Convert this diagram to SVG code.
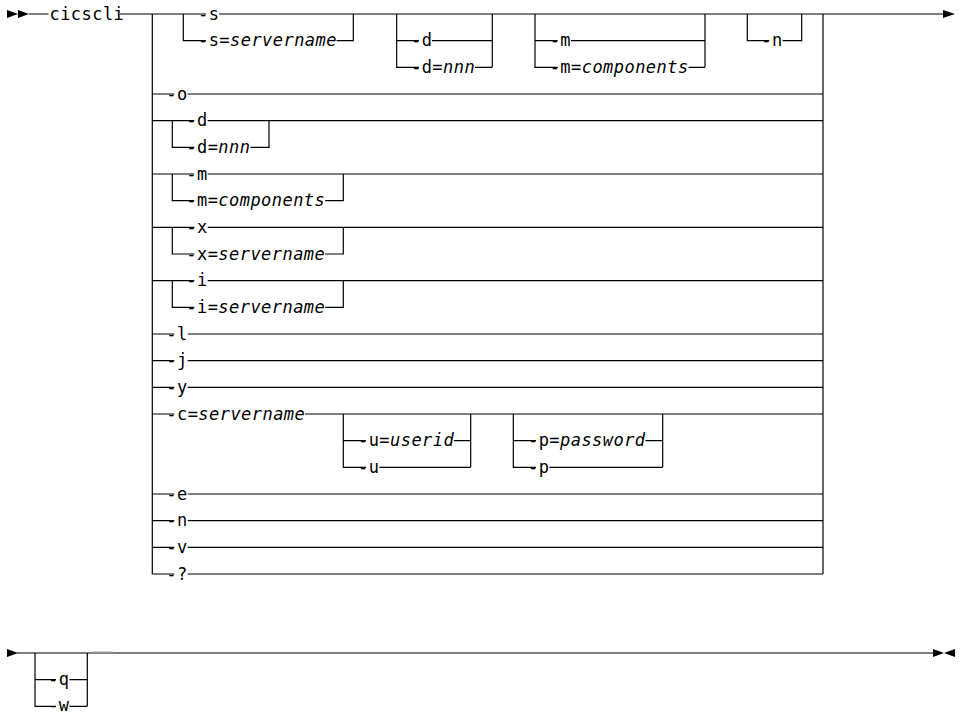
<svg xmlns="http://www.w3.org/2000/svg" width="960" height="712" viewBox="0 0 960 712">
<style>
.t{font-family:"DejaVu Sans Mono","Liberation Mono",monospace;font-size:17px;letter-spacing:0.45px;fill:#000}
.i{font-style:italic}
.c{stroke:#000;stroke-width:1.2;fill:none}
.a{fill:#000;stroke:none}
</style>
<rect width="960" height="712" fill="#fff"/>
<g id="connectors">
<path class="c" d="M29 14H48.5M120 14H206M219 14H943
M183.3 14V40.7H206M336.5 40.7H353.3V14
M396.7 14V67.3H419M396.7 40.7H419M432 40.7H492.3M475 67.3H492.3M492.3 14V67.3
M535 14V67.3H557.7M535 40.7H557.7M571 40.7H705M688.5 67.3H705M705 14V67.3
M747.3 14V40.7H769.3M782.7 40.7H801.7V14
M152.3 14V574H174.3M823 14V574
M152.3 94H174.3M187.7 94H823
M152.3 120.7H194.3M207.7 120.7H823M172.3 120.7V147.3H194.3M250.4 147.3H269V120.7
M152.3 174H194.3M207.7 174H823M172.3 174V200.7H194.3M325.1 200.7H343.3V174
M152.3 227.3H194.3M207.7 227.3H823M172.3 227.3V254H194.3M325.1 254H343.3V227.3
M152.3 280.7H194.3M207.7 280.7H823M172.3 280.7V307.3H194.3M325.1 307.3H343.3V280.7
M152.3 334H174.3M187.7 334H823
M152.3 360.7H174.3M187.7 360.7H823
M152.3 387.3H174.3M187.7 387.3H823
M152.3 414H174.3M305 414H823
M343.3 414V467.3H366M343.3 440.7H366M454 440.7H470.7M379.4 467.3H470.7M470.7 414V467.3
M513.3 414V467.3H536M513.3 440.7H536M645.5 440.7H662.7M549.4 467.3H662.7M662.7 414V467.3
M152.3 494H174.3M187.7 494H823
M152.3 520.7H174.3M187.7 520.7H823
M152.3 547.3H174.3M187.7 547.3H823
M187.7 574H823
M17 653H933
M35 653V706.3H56M35 679.7H56M69.5 679.7H87.3M69.5 706.3H87.3M87.3 653V706.3"/>
<path d="M92 652H113" stroke="#aaa" stroke-width="1.2"/>
<path class="a" d="M7 10L18 14L7 18ZM18 10L29 14L18 18ZM943 10L955 14L943 18Z"/>
<path class="a" d="M7 649L18 653L7 657ZM933 649L944 653L933 657ZM955 649L944 653L955 657Z"/>
</g>
<g id="n-cicscli"><text class="t" x="49.5" y="19.5">cicscli</text></g>
<g id="n-s"><text class="t" x="198" y="19.5">-s</text></g>
<g id="n-s-server"><text class="t" x="198" y="46.2">-s=<tspan class="i">servername</tspan></text></g>
<g id="n-d1"><text class="t" x="411" y="46.2">-d</text></g>
<g id="n-d1-nnn"><text class="t" x="411" y="72.8">-d=<tspan class="i">nnn</tspan></text></g>
<g id="n-m1"><text class="t" x="549.7" y="46.2">-m</text></g>
<g id="n-m1-comp"><text class="t" x="549.7" y="72.8">-m=<tspan class="i">components</tspan></text></g>
<g id="n-n1"><text class="t" x="761.3" y="46.2">-n</text></g>
<g id="n-o"><text class="t" x="166.3" y="99.5">-o</text></g>
<g id="n-d2"><text class="t" x="186.3" y="126.2">-d</text></g>
<g id="n-d2-nnn"><text class="t" x="186.3" y="152.8">-d=<tspan class="i">nnn</tspan></text></g>
<g id="n-m2"><text class="t" x="186.3" y="179.5">-m</text></g>
<g id="n-m2-comp"><text class="t" x="186.3" y="206.2">-m=<tspan class="i">components</tspan></text></g>
<g id="n-x"><text class="t" x="186.3" y="232.8">-x</text></g>
<g id="n-x-server"><text class="t" x="186.3" y="259.5">-x=<tspan class="i">servername</tspan></text></g>
<g id="n-i"><text class="t" x="186.3" y="286.2">-i</text></g>
<g id="n-i-server"><text class="t" x="186.3" y="312.8">-i=<tspan class="i">servername</tspan></text></g>
<g id="n-l"><text class="t" x="166.3" y="339.5">-l</text></g>
<g id="n-j"><text class="t" x="166.3" y="366.2">-j</text></g>
<g id="n-y"><text class="t" x="166.3" y="392.8">-y</text></g>
<g id="n-c"><text class="t" x="166.3" y="419.5">-c=<tspan class="i">servername</tspan></text></g>
<g id="n-u-userid"><text class="t" x="358" y="446.2">-u=<tspan class="i">userid</tspan></text></g>
<g id="n-u"><text class="t" x="358" y="472.8">-u</text></g>
<g id="n-p-password"><text class="t" x="528" y="446.2">-p=<tspan class="i">password</tspan></text></g>
<g id="n-p"><text class="t" x="528" y="472.8">-p</text></g>
<g id="n-e"><text class="t" x="166.3" y="499.5">-e</text></g>
<g id="n-n2"><text class="t" x="166.3" y="526.2">-n</text></g>
<g id="n-v"><text class="t" x="166.3" y="552.8">-v</text></g>
<g id="n-q-mark"><text class="t" x="166.3" y="579.5">-?</text></g>
<g id="n-q"><text class="t" x="48" y="685.2">-q</text></g>
<g id="n-w"><text class="t" x="48" y="711">-w</text></g>
</svg>
